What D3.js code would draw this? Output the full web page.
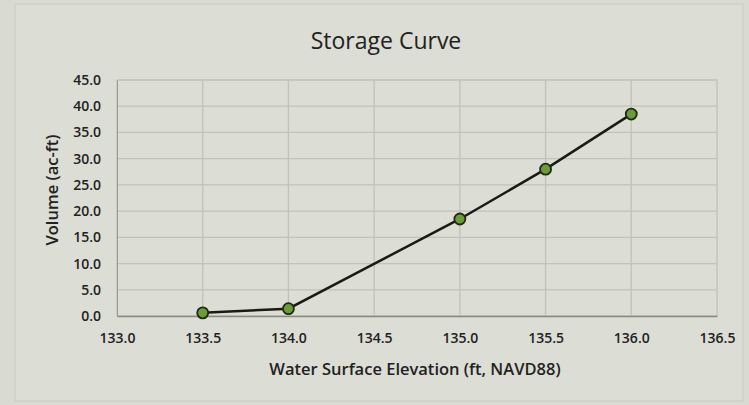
<!DOCTYPE html>
<html>
<head>
<meta charset="utf-8">
<script src="https://cdn.jsdelivr.net/npm/d3@7"></script>
<style>
  body { margin: 0; background: #d9dad1; }
  text { font-family: "Open Sans", sans-serif; fill: #222; }
</style>
</head>
<body>
<div id="plot"></div>
<script>
// data
const elevations = [133.5, 134.0, 135.0, 135.5, 136.0];
const volumes = [0.6, 1.4, 18.5, 28.0, 38.5];
const xTicks = [133.0, 133.5, 134.0, 134.5, 135.0, 135.5, 136.0, 136.5];
const yTicks = [0, 5, 10, 15, 20, 25, 30, 35, 40, 45];

const W = 749, H = 405;
const margin = { top: 80, right: 32, bottom: 89, left: 117 };
const width = W - margin.left - margin.right,
      height = H - margin.top - margin.bottom;

const svg = d3.select("#plot").append("svg")
  .attr("width", W)
  .attr("height", H);

// chart frame
svg.append("rect")
  .attr("x", 15).attr("y", 4)
  .attr("width", 728).attr("height", 397)
  .attr("fill", "#dcddd4")
  .attr("stroke", "#c9c9c0");

const g = svg.append("g")
  .attr("transform", `translate(${margin.left},${margin.top})`);

const x = d3.scaleLinear().domain([133, 136.5]).range([0, width]);
const y = d3.scaleLinear().domain([0, 45]).range([height, 0]);

// gridlines
g.append("g")
  .selectAll("line")
  .data(yTicks)
  .join("line")
    .attr("x1", 0).attr("x2", width)
    .attr("y1", d => y(d)).attr("y2", d => y(d))
    .attr("stroke", "#c3c1b9").attr("stroke-width", 1.3);

g.append("g")
  .selectAll("line")
  .data(xTicks)
  .join("line")
    .attr("x1", d => x(d)).attr("x2", d => x(d))
    .attr("y1", 0).attr("y2", height)
    .attr("stroke", "#c3c1b9").attr("stroke-width", 1.3);

// axes
const xAxis = g.append("g")
  .attr("transform", `translate(0,${height})`)
  .call(d3.axisBottom(x).tickValues(xTicks).tickFormat(d3.format(".1f")).tickSize(0).tickPadding(17));
xAxis.select(".domain").attr("stroke", "#8a8a84").attr("stroke-width", 1.5);

const yAxis = g.append("g")
  .call(d3.axisLeft(y).tickValues(yTicks).tickFormat(d3.format(".1f")).tickSize(0).tickPadding(16));
yAxis.select(".domain").attr("stroke", "#9a9a94");

g.selectAll(".tick text")
  .attr("font-size", 14)
  .attr("font-weight", 600)
  .attr("fill", "#222")
  .style("font-family", "'Open Sans', sans-serif");

// line
const pts = elevations.map((e, i) => ({ e: e, v: volumes[i] }));
g.append("path")
  .datum(pts)
  .attr("fill", "none")
  .attr("stroke", "#1b1b14")
  .attr("stroke-width", 2.5)
  .attr("d", d3.line().x(d => x(d.e)).y(d => y(d.v)));

g.selectAll("circle")
  .data(pts)
  .join("circle")
    .attr("cx", d => x(d.e))
    .attr("cy", d => y(d.v))
    .attr("r", 5.5)
    .attr("fill", "#6c9b3a")
    .attr("stroke", "#1e2a12")
    .attr("stroke-width", 1.8);

// titles
svg.append("text")
  .attr("x", 386).attr("y", 49)
  .attr("text-anchor", "middle")
  .attr("font-size", 23)
  .text("Storage Curve");

svg.append("text")
  .attr("x", 415).attr("y", 375)
  .attr("text-anchor", "middle")
  .attr("font-size", 16.5)
  .attr("font-weight", 600)
  .text("Water Surface Elevation (ft, NAVD88)");

svg.append("text")
  .attr("transform", `translate(58,${margin.top + height / 2 - 8}) rotate(-90)`)
  .attr("text-anchor", "middle")
  .attr("font-size", 16.5)
  .attr("font-weight", 600)
  .text("Volume (ac-ft)");
</script>
</body>
</html>
